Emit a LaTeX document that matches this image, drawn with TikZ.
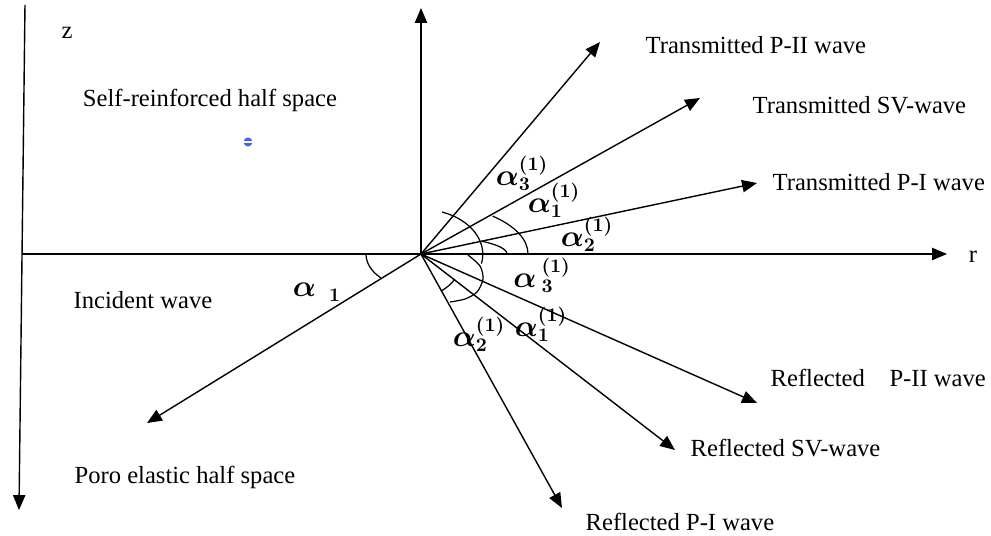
\documentclass[tikz,border=0pt]{standalone}
\usepackage{fontspec}
\setmainfont{Liberation Serif}
\usepackage{bm}
\usetikzlibrary{arrows.meta}

\definecolor{dotblue}{HTML}{4A5BE0}

\begin{document}
\begin{tikzpicture}[x=0.02cm,y=0.02cm,line width=0.8pt,
  wave/.style={-{Triangle[length=8.5pt,width=7pt]}},
  txt/.style={font=\fontsize{14}{16}\selectfont,inner sep=0pt},
  ang/.style={font=\fontsize{16}{18}\selectfont,inner sep=0pt},
  angarc/.style={line width=0.7pt}]
\useasboundingbox (-421,-281) rectangle (570,254);
\coordinate (O) at (0,0);
\coordinate (zTop) at (-396,249);
\coordinate (zEnd) at (-402,-256);
\coordinate (rStart) at (-399,0);
\coordinate (rEnd) at (526,0);
\coordinate (upEnd) at (0,246);
\draw[wave] (zTop) -- (zEnd);
\draw[wave] (rStart) -- (rEnd);
\draw[wave] (O) -- (upEnd);
\foreach \n/\x/\y in {inc/-274/-169,tPII/179/212,tSV/279/156,tPI/336/71,rPII/336/-149,rSV/254/-196,rPI/141/-254} {
 \coordinate (\n) at (\x,\y);
 \draw[wave] (O) -- (\n);
}
\node[txt] (zLab) at (-354,221) {z};
\node[txt] (rLab) at (552,-3) {r};
\node[txt] (selfLab) at (-211,154) {Self-reinforced half space};
\node[txt] (incLab) at (-278,-46) {Incident wave};
\node[txt] (poroLab) at (-236,-223) {Poro elastic half space};
\node[txt,anchor=west] (tPIILab) at (224,209) {Transmitted P-II wave};
\node[txt,anchor=west] (tSVLab) at (331,149) {Transmitted SV-wave};
\node[txt,anchor=west] (tPILab) at (351,72) {Transmitted P-I wave};
\node[txt,anchor=west] (rPIILab) at (349,-124) {Reflected\quad P-II wave};
\node[txt,anchor=west] (rSVLab) at (269,-194) {Reflected SV-wave};
\node[txt,anchor=west] (rPILab) at (164,-268) {Reflected P-I wave};
\fill[dotblue] (-173,112) circle (4.5);
\draw[white,line width=1pt] (-178,112) -- (-168,112);
\draw[angarc] (-55,0) arc[start angle=180,end angle=223,x radius=55,y radius=35];
\draw[angarc] (21,42) arc[start angle=70,end angle=-12,x radius=62,y radius=45];
\draw[angarc] (86,0) arc[start angle=0,end angle=45,x radius=86,y radius=18];
\draw[angarc] (107,0) arc[start angle=0,end angle=48,x radius=107,y radius=51];
\draw[angarc] plot[smooth] coordinates {(47,-1) (59,-12) (62,-25) (56,-38) (44,-45) (29,-48)};
\draw[angarc] (20,-37) arc[start angle=-62,end angle=-37,radius=42];
\node[ang] (aInc) at (-104,-38) {$\bm{\alpha}_{\hspace{0.26cm}\bm{1}}$};
\node[ang] (aT3) at (101,81) {$\bm{\alpha_3^{(1)}}$};
\node[ang] (aT1) at (133,54) {$\bm{\alpha_1^{(1)}}$};
\node[ang] (aT2) at (166,20) {$\bm{\alpha_2^{(1)}}$};
\node[ang] (aR3) at (121,-21) {$\bm{\alpha}\,_{\bm{3}}^{\bm{(1)}}$};
\node[ang] (aR2) at (58,-80) {$\bm{\alpha_2^{(1)}}$};
\node[ang] (aR1) at (120,-70) {$\bm{\alpha_1^{(1)}}$};
\end{tikzpicture}
\end{document}
